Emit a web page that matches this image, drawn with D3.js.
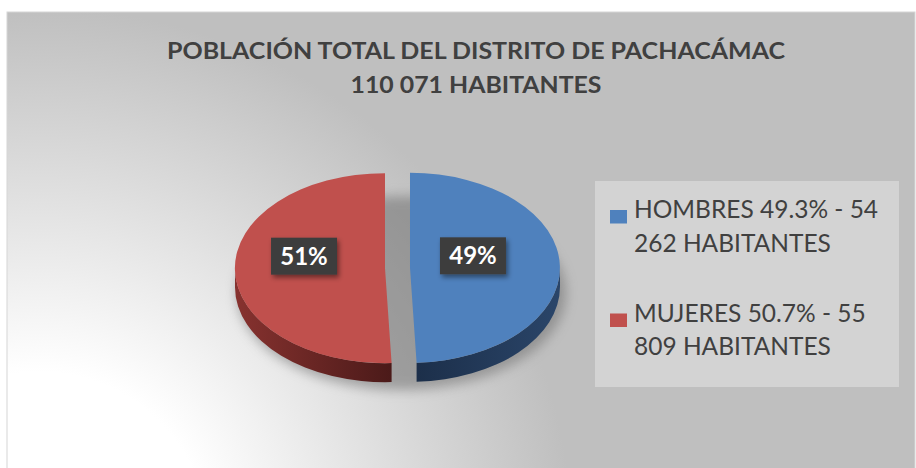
<!DOCTYPE html>
<meta charset="utf-8" />
<script src="https://d3js.org/d3.v7.min.js"></script>
<div id="chart"></div>
<script>
  // data
  const categorias = ["HOMBRES", "MUJERES"];
  const porcentajes = [49.3, 50.7];
  const habitantes = ["54 262", "55 809"];
  const etiquetas = ["49%", "51%"];
  const colores = ["#4f81bd", "#c0504d"];
  const ladosClaro = ["#2a4569", "#87322f"];
  const ladosOscuro = ["#1c2f4a", "#4b1a19"];
  const titulo = ["POBLACIÓN TOTAL DEL DISTRITO DE PACHACÁMAC", "110 071 HABITANTES"];
  const tituloAncho = [618, 251];

  const width = 916,
    height = 468;

  const svg = d3
    .select("#chart")
    .append("svg")
    .attr("width", width)
    .attr("height", height)
    .style("display", "block");

  const defs = svg.append("defs");

  // background glow coming from the bottom left
  const bg = defs
    .append("radialGradient")
    .attr("id", "bg")
    .attr("gradientUnits", "userSpaceOnUse")
    .attr("cx", 40)
    .attr("cy", 540)
    .attr("r", 560);
  bg.append("stop").attr("offset", "0.3").attr("stop-color", "#ffffff");
  bg.append("stop").attr("offset", "0.95").attr("stop-color", "#bfbfbf");

  defs
    .append("filter")
    .attr("id", "blur")
    .attr("x", "-20%")
    .attr("y", "-20%")
    .attr("width", "140%")
    .attr("height", "140%")
    .append("feGaussianBlur")
    .attr("stdDeviation", 6);

  const ds = defs.append("filter").attr("id", "ds").attr("x", "-30%").attr("y", "-30%").attr("width", "160%").attr("height", "170%");
  ds.append("feDropShadow")
    .attr("dx", 2)
    .attr("dy", 3)
    .attr("stdDeviation", 2.5)
    .attr("flood-color", "#000")
    .attr("flood-opacity", 0.45);

  categorias.forEach((c, i) => {
    const g = defs
      .append("linearGradient")
      .attr("id", "side" + i)
      .attr("x1", 0)
      .attr("x2", 1)
      .attr("y1", 0)
      .attr("y2", 0);
    g.append("stop").attr("offset", "0").attr("stop-color", i === 1 ? ladosClaro[i] : ladosOscuro[i]);
    g.append("stop").attr("offset", "1").attr("stop-color", i === 1 ? ladosOscuro[i] : ladosClaro[i]);
  });

  // chart area
  svg
    .append("rect")
    .attr("x", 7)
    .attr("y", 12)
    .attr("width", 908)
    .attr("height", 460)
    .attr("fill", "url(#bg)")
    .attr("stroke", "#d6d6d6")
    .attr("stroke-width", 1);

  // title
  svg
    .append("g")
    .selectAll("text")
    .data(titulo)
    .join("text")
    .attr("x", 476)
    .attr("y", (d, i) => 59 + i * 34)
    .attr("text-anchor", "middle")
    .style("font-family", "Lato, 'Open Sans', sans-serif")
    .style("font-weight", "bold")
    .style("font-size", "23.5px")
    .style("fill", "#404040")
    .attr("textLength", (d, i) => tituloAncho[i])
    .attr("lengthAdjust", "spacingAndGlyphs")
    .text((d) => d);

  // 3D pie
  const cx = 397.5,
    cy = 268,
    rx = 150,
    ry = 95,
    depth = 19,
    explode = 12.5;

  const arcs = d3.pie().sort(null).value((d) => d)(porcentajes);
  const unitArc = d3.arc().innerRadius(0).outerRadius(1);

  arcs.forEach((a) => {
    const mid = (a.startAngle + a.endAngle) / 2;
    a.cx = cx + explode * Math.sin(mid);
    a.cy = cy - explode * (ry / rx) * Math.cos(mid);
  });

  const pt = (a, x0, y0) => [x0 + rx * Math.sin(a), y0 - ry * Math.cos(a)];

  function sidePath(a) {
    const s = Math.max(a.startAngle, Math.PI / 2);
    const e = Math.min(a.endAngle, (3 * Math.PI) / 2);
    if (e <= s) return null;
    const p0 = pt(s, a.cx, a.cy),
      p1 = pt(e, a.cx, a.cy);
    const large = e - s > Math.PI ? 1 : 0;
    return (
      `M${p0[0]},${p0[1]}` +
      `A${rx},${ry} 0 ${large} 1 ${p1[0]},${p1[1]}` +
      `L${p1[0]},${p1[1] + depth}` +
      `A${rx},${ry} 0 ${large} 0 ${p0[0]},${p0[1] + depth}Z`
    );
  }

  const pieG = svg.append("g");

  // soft shadow under the pie
  pieG
    .append("ellipse")
    .attr("cx", cx + 4)
    .attr("cy", cy + depth + 6)
    .attr("rx", rx + explode + 2)
    .attr("ry", ry + 2)
    .attr("fill", "#6e6e6e")
    .attr("opacity", 0.55)
    .attr("filter", "url(#blur)");

  pieG
    .selectAll("path.side")
    .data(arcs)
    .join("path")
    .attr("class", "side")
    .attr("d", sidePath)
    .attr("fill", (d, i) => `url(#side${i})`);

  pieG
    .selectAll("path.top")
    .data(arcs)
    .join("path")
    .attr("class", "top")
    .attr("d", unitArc)
    .attr("transform", (d) => `translate(${d.cx},${d.cy}) scale(${rx},${ry})`)
    .attr("fill", (d, i) => colores[i]);

  // data labels
  const lab = pieG
    .selectAll("g.lab")
    .data(arcs)
    .join("g")
    .attr("class", "lab")
    .attr("transform", (d) => {
      const mid = (d.startAngle + d.endAngle) / 2;
      return `translate(${d.cx + 0.48 * rx * Math.sin(mid) - 9},${d.cy - 12})`;
    });
  lab
    .append("rect")
    .attr("x", -33)
    .attr("y", -18.5)
    .attr("width", 66)
    .attr("height", 37)
    .attr("fill", "#3d3d3d")
    .attr("filter", "url(#ds)");
  lab
    .append("text")
    .attr("text-anchor", "middle")
    .attr("y", 8.5)
    .style("font-family", "Lato, sans-serif")
    .style("font-weight", "bold")
    .style("font-size", "24px")
    .style("fill", "#ffffff")
    .text((d, i) => etiquetas[i]);

  // legend
  const legend = svg.append("g");
  legend
    .append("rect")
    .attr("x", 595)
    .attr("y", 181)
    .attr("width", 304)
    .attr("height", 206)
    .attr("fill", "#d3d3d3");

  const item = legend
    .selectAll("g")
    .data(categorias)
    .join("g")
    .attr("transform", (d, i) => `translate(610,${210 + i * 103.5})`);

  item
    .append("rect")
    .attr("width", 17)
    .attr("height", 13.5)
    .attr("fill", (d, i) => colores[i]);

  item.each(function (d, i) {
    const words = `${d} ${porcentajes[i]}% - ${habitantes[i]} HABITANTES`.split(" ");
    const t = d3
      .select(this)
      .append("text")
      .attr("x", 24)
      .attr("y", 8)
      .style("font-family", "Lato, 'Open Sans', sans-serif")
      .style("font-size", "24.5px")
      .style("fill", "#404040");
    let line = [];
    let ts = t.append("tspan").attr("x", 24).attr("dy", 0);
    words.forEach((w) => {
      line.push(w);
      ts.text(line.join(" "));
      if (ts.node().getComputedTextLength() > 262 && line.length > 1) {
        line.pop();
        ts.text(line.join(" "));
        line = [w];
        ts = t.append("tspan").attr("x", 24).attr("dy", 33.5).text(w);
      }
    });
  });
</script>
<style>
  body {
    margin: 0;
    background-color: #ffffff;
  }
</style>
